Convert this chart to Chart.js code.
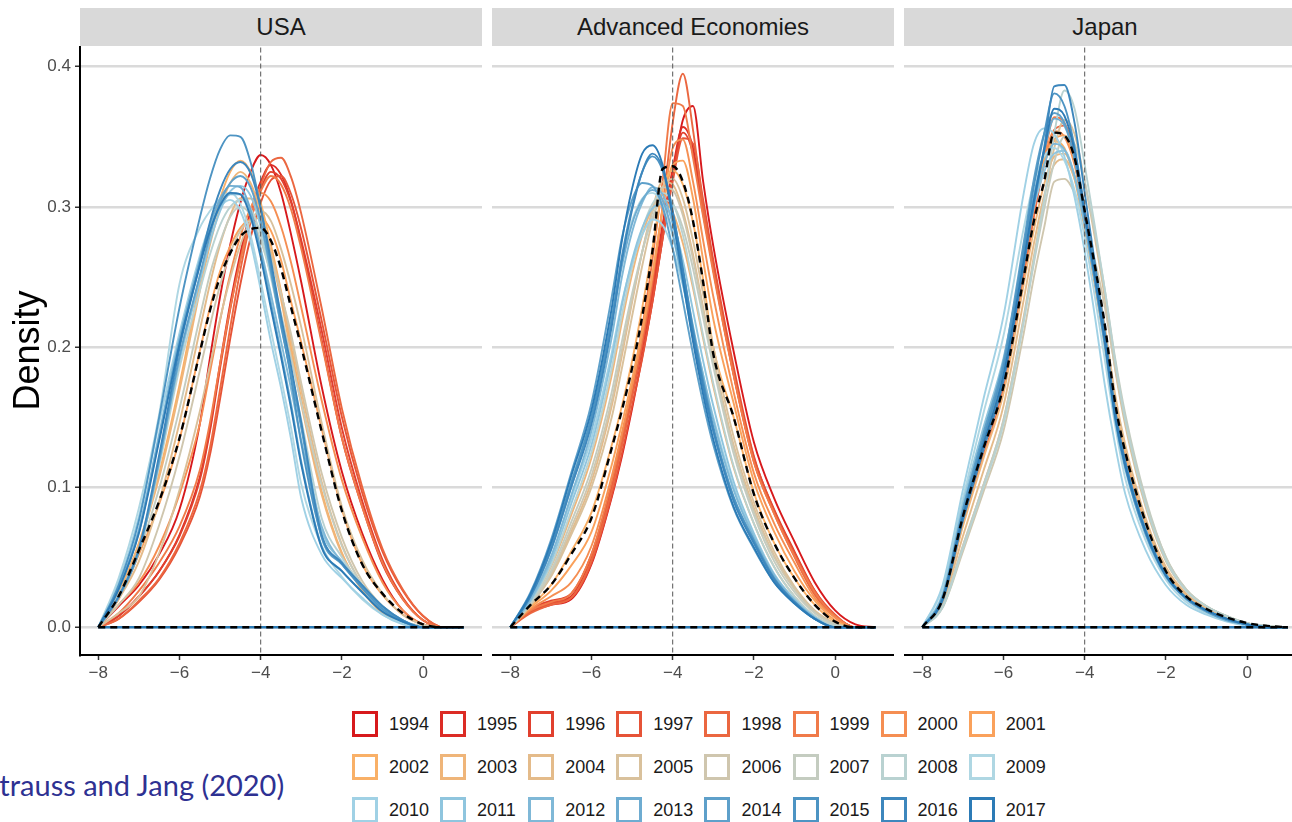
<!DOCTYPE html>
<html>
<head>
<meta charset="utf-8">
<script src="https://cdn.jsdelivr.net/npm/chart.js@4/dist/chart.umd.min.js"></script>
<style>
  html, body { margin: 0; padding: 0; background: #fff; overflow: hidden; }
  #stage { position: relative; width: 1292px; height: 822px; overflow: hidden; background: #fff; }
  .strip { position: absolute; top: 8px; height: 38px; background: #d9d9d9; color: #1a1a1a;
           font: 24px "Liberation Sans", Arial, sans-serif; text-align: center; line-height: 38px; }
  canvas { position: absolute; top: 46px; }
  .legend-item { position: absolute; display: flex; align-items: center; height: 26px; }
  .swatch { width: 20px; height: 20px; border: 3px solid #000; background: #fff; }
  .legend-label { margin-left: 11px; font: 18px "Liberation Sans", Arial, sans-serif; color: #1a1a1a; }
  #cite { position: absolute; top: 767px; font: 29px Lato, "Open Sans", sans-serif; line-height: 36px;
          color: #2e3192; white-space: nowrap; }
</style>
</head>
<body>
<div id="stage"></div>
<script>
// Density grid shared by every curve
const densityX = [-8, -7.5, -7, -6.5, -6, -5.5, -5.25, -5, -4.75, -4.5, -4.25, -4, -3.75, -3.5, -3.25, -3, -2.5, -2, -1.5, -1, -0.5, 0, 0.5, 1];

const years = [1994, 1995, 1996, 1997, 1998, 1999, 2000, 2001, 2002, 2003, 2004, 2005,
               2006, 2007, 2008, 2009, 2010, 2011, 2012, 2013, 2014, 2015, 2016, 2017];
const japanYears = years.filter(y => y >= 1998);

const panelNames = ['USA', 'Advanced Economies', 'Japan'];
const xTicks = [-8, -6, -4, -2, 0];
const yTicks = [0, 0.1, 0.2, 0.3, 0.4];
const referenceX = -4;

// USA, one row per year (1994-2017)
const usaDensity = [
  [0,0.015,0.030,0.052,0.084,0.145,0.192,0.236,0.273,0.303,0.325,0.337,0.330,0.310,0.280,0.246,0.172,0.111,0.067,0.034,0.012,0.002,0,0],
  [0,0.008,0.022,0.040,0.066,0.107,0.142,0.188,0.231,0.267,0.297,0.318,0.330,0.323,0.304,0.274,0.205,0.135,0.086,0.045,0.020,0.005,0,0],
  [0,0.008,0.022,0.040,0.065,0.105,0.140,0.185,0.227,0.263,0.292,0.313,0.325,0.320,0.303,0.276,0.212,0.142,0.090,0.048,0.021,0.005,0,0],
  [0,0.006,0.018,0.034,0.058,0.093,0.123,0.163,0.206,0.245,0.278,0.303,0.319,0.322,0.309,0.284,0.219,0.150,0.096,0.054,0.026,0.008,0,0],
  [0,0.006,0.019,0.035,0.060,0.097,0.128,0.170,0.214,0.255,0.289,0.315,0.332,0.335,0.321,0.295,0.228,0.156,0.100,0.056,0.027,0.008,0,0],
  [0,0.010,0.026,0.046,0.072,0.112,0.146,0.188,0.228,0.262,0.291,0.311,0.322,0.316,0.298,0.270,0.203,0.135,0.086,0.046,0.020,0.005,0,0],
  [0,0.016,0.032,0.058,0.095,0.145,0.182,0.219,0.252,0.279,0.299,0.310,0.304,0.286,0.260,0.228,0.162,0.105,0.064,0.032,0.012,0.002,0,0],
  [0,0.020,0.052,0.088,0.134,0.197,0.228,0.254,0.272,0.285,0.291,0.292,0.283,0.262,0.232,0.203,0.142,0.084,0.045,0.023,0.009,0.002,0,0],
  [0,0.025,0.060,0.110,0.173,0.246,0.280,0.306,0.325,0.333,0.325,0.303,0.273,0.240,0.200,0.163,0.097,0.053,0.027,0.010,0.003,0,0,0],
  [0,0.024,0.059,0.107,0.169,0.240,0.273,0.299,0.317,0.325,0.317,0.296,0.266,0.234,0.195,0.159,0.095,0.052,0.026,0.010,0.003,0,0,0],
  [0,0.020,0.047,0.090,0.146,0.212,0.245,0.273,0.294,0.306,0.306,0.292,0.268,0.239,0.205,0.169,0.104,0.059,0.030,0.012,0.004,0,0,0],
  [0,0.010,0.022,0.053,0.098,0.154,0.187,0.220,0.249,0.273,0.290,0.297,0.290,0.270,0.244,0.214,0.146,0.086,0.048,0.024,0.009,0.002,0,0],
  [0,0.016,0.035,0.073,0.122,0.183,0.215,0.244,0.267,0.283,0.290,0.283,0.264,0.238,0.209,0.174,0.110,0.064,0.033,0.015,0.004,0.001,0,0],
  [0,0.023,0.054,0.099,0.156,0.221,0.252,0.275,0.293,0.300,0.294,0.276,0.252,0.224,0.192,0.160,0.102,0.058,0.030,0.012,0.004,0.001,0,0],
  [0,0.022,0.055,0.115,0.185,0.240,0.266,0.287,0.300,0.305,0.299,0.280,0.250,0.216,0.182,0.148,0.078,0.050,0.030,0.015,0.005,0,0,0],
  [0,0.035,0.085,0.152,0.245,0.285,0.297,0.306,0.310,0.302,0.280,0.247,0.212,0.178,0.142,0.102,0.058,0.036,0.020,0.009,0.003,0,0,0],
  [0,0.032,0.079,0.146,0.210,0.265,0.287,0.300,0.305,0.297,0.275,0.241,0.204,0.171,0.134,0.092,0.052,0.035,0.021,0.009,0.002,0,0,0],
  [0,0.022,0.055,0.118,0.190,0.247,0.275,0.297,0.311,0.315,0.308,0.286,0.253,0.216,0.181,0.145,0.070,0.047,0.029,0.014,0.005,0,0,0],
  [0,0.028,0.070,0.138,0.206,0.260,0.283,0.300,0.309,0.309,0.296,0.270,0.238,0.204,0.170,0.133,0.072,0.046,0.028,0.013,0.004,0,0,0],
  [0,0.027,0.068,0.135,0.205,0.262,0.287,0.306,0.315,0.314,0.298,0.268,0.232,0.196,0.159,0.118,0.058,0.040,0.025,0.012,0.004,0,0,0],
  [0,0.021,0.054,0.119,0.193,0.251,0.280,0.303,0.317,0.322,0.314,0.290,0.254,0.215,0.180,0.142,0.064,0.045,0.029,0.015,0.005,0,0,0],
  [0,0.030,0.076,0.150,0.228,0.292,0.320,0.341,0.351,0.350,0.332,0.299,0.258,0.218,0.177,0.131,0.065,0.045,0.028,0.013,0.004,0,0,0],
  [0,0.022,0.056,0.123,0.199,0.259,0.289,0.312,0.327,0.332,0.324,0.299,0.262,0.222,0.186,0.146,0.066,0.046,0.030,0.015,0.005,0,0,0],
  [0,0.027,0.067,0.133,0.202,0.258,0.283,0.301,0.310,0.309,0.293,0.264,0.228,0.193,0.156,0.116,0.057,0.040,0.025,0.011,0.004,0,0,0]
];
const usaMean = [0,0.022,0.055,0.090,0.135,0.196,0.226,0.250,0.267,0.279,0.284,0.285,0.276,0.256,0.228,0.200,0.140,0.083,0.045,0.024,0.010,0.002,0,0];

// Advanced Economies, one row per year (1994-2017)
const advDensity = [
  [0,0.011,0.016,0.020,0.045,0.093,0.122,0.156,0.193,0.232,0.277,0.322,0.362,0.372,0.318,0.272,0.197,0.132,0.092,0.061,0.032,0.012,0.002,0],
  [0,0.012,0.018,0.022,0.050,0.100,0.131,0.166,0.201,0.241,0.287,0.327,0.357,0.342,0.297,0.256,0.181,0.119,0.082,0.052,0.025,0.008,0,0],
  [0,0.013,0.019,0.024,0.052,0.101,0.131,0.165,0.199,0.238,0.283,0.323,0.353,0.338,0.295,0.256,0.182,0.121,0.084,0.054,0.026,0.008,0,0],
  [0,0.011,0.017,0.021,0.046,0.094,0.124,0.158,0.192,0.232,0.277,0.318,0.349,0.345,0.305,0.262,0.186,0.122,0.083,0.053,0.026,0.009,0,0],
  [0,0.010,0.016,0.021,0.048,0.098,0.130,0.165,0.203,0.245,0.300,0.360,0.395,0.355,0.300,0.255,0.180,0.118,0.081,0.050,0.023,0.007,0,0],
  [0,0.012,0.018,0.024,0.052,0.104,0.136,0.172,0.214,0.262,0.318,0.374,0.372,0.335,0.293,0.253,0.180,0.118,0.081,0.051,0.025,0.008,0,0],
  [0,0.013,0.022,0.032,0.058,0.108,0.139,0.172,0.208,0.250,0.298,0.342,0.348,0.318,0.276,0.236,0.168,0.110,0.074,0.046,0.021,0.007,0,0],
  [0,0.014,0.026,0.044,0.068,0.116,0.145,0.177,0.212,0.252,0.298,0.330,0.333,0.306,0.262,0.220,0.160,0.104,0.068,0.040,0.019,0.005,0,0],
  [0,0.015,0.030,0.054,0.082,0.130,0.158,0.190,0.228,0.270,0.312,0.326,0.316,0.289,0.248,0.200,0.150,0.096,0.060,0.035,0.016,0.004,0,0],
  [0,0.018,0.043,0.080,0.121,0.180,0.218,0.252,0.280,0.299,0.305,0.296,0.274,0.242,0.206,0.172,0.114,0.074,0.043,0.022,0.008,0.001,0,0],
  [0,0.016,0.037,0.068,0.104,0.158,0.194,0.232,0.268,0.298,0.318,0.316,0.297,0.266,0.228,0.192,0.130,0.085,0.051,0.028,0.011,0.002,0,0],
  [0,0.016,0.036,0.066,0.100,0.150,0.185,0.222,0.258,0.290,0.314,0.320,0.306,0.276,0.238,0.200,0.136,0.089,0.054,0.029,0.012,0.003,0,0],
  [0,0.016,0.038,0.071,0.108,0.162,0.198,0.234,0.268,0.296,0.314,0.312,0.294,0.263,0.226,0.190,0.128,0.083,0.050,0.027,0.011,0.002,0,0],
  [0,0.017,0.040,0.075,0.113,0.168,0.204,0.238,0.268,0.292,0.305,0.302,0.285,0.256,0.221,0.186,0.124,0.080,0.047,0.025,0.010,0.002,0,0],
  [0,0.018,0.044,0.083,0.125,0.185,0.223,0.257,0.284,0.302,0.310,0.303,0.280,0.245,0.208,0.174,0.115,0.074,0.043,0.022,0.008,0.001,0,0],
  [0,0.024,0.058,0.104,0.152,0.222,0.262,0.290,0.306,0.310,0.302,0.279,0.246,0.208,0.173,0.142,0.093,0.061,0.035,0.018,0.006,0,0,0],
  [0,0.020,0.050,0.092,0.135,0.196,0.232,0.260,0.280,0.291,0.287,0.270,0.244,0.212,0.180,0.150,0.100,0.065,0.037,0.019,0.007,0,0,0],
  [0,0.019,0.047,0.088,0.130,0.192,0.230,0.262,0.285,0.299,0.302,0.290,0.262,0.226,0.190,0.158,0.104,0.067,0.038,0.020,0.007,0,0,0],
  [0,0.020,0.050,0.094,0.140,0.207,0.250,0.282,0.303,0.314,0.309,0.288,0.254,0.215,0.180,0.148,0.098,0.064,0.037,0.019,0.007,0,0,0],
  [0,0.022,0.055,0.100,0.148,0.218,0.258,0.288,0.305,0.312,0.305,0.281,0.246,0.206,0.170,0.140,0.092,0.060,0.035,0.018,0.006,0,0,0],
  [0,0.025,0.062,0.110,0.160,0.236,0.278,0.305,0.317,0.315,0.300,0.270,0.233,0.195,0.160,0.130,0.085,0.056,0.032,0.017,0.006,0,0,0],
  [0,0.023,0.057,0.103,0.150,0.220,0.265,0.300,0.325,0.336,0.326,0.296,0.256,0.213,0.176,0.143,0.093,0.062,0.035,0.018,0.006,0,0,0],
  [0,0.022,0.055,0.100,0.145,0.215,0.262,0.298,0.325,0.338,0.328,0.297,0.255,0.210,0.172,0.140,0.090,0.060,0.034,0.018,0.006,0,0,0],
  [0,0.024,0.060,0.108,0.155,0.228,0.276,0.313,0.338,0.344,0.330,0.292,0.248,0.204,0.166,0.134,0.086,0.057,0.032,0.017,0.006,0,0,0]
];
const advMean = [0,0.016,0.030,0.052,0.078,0.128,0.155,0.185,0.222,0.268,0.327,0.329,0.318,0.290,0.246,0.195,0.150,0.095,0.060,0.035,0.016,0.004,0,0];

// Japan, one row per year (1998-2017)
const japanDensity = [
  [0,0.018,0.074,0.122,0.170,0.250,0.293,0.330,0.355,0.358,0.338,0.298,0.256,0.210,0.157,0.121,0.071,0.039,0.022,0.012,0.006,0.002,0,0],
  [0,0.019,0.078,0.127,0.175,0.256,0.300,0.336,0.364,0.360,0.336,0.296,0.254,0.208,0.155,0.119,0.070,0.038,0.021,0.012,0.006,0.002,0,0],
  [0,0.020,0.080,0.130,0.178,0.258,0.300,0.333,0.354,0.350,0.330,0.292,0.252,0.208,0.155,0.120,0.072,0.039,0.022,0.013,0.006,0.002,0,0],
  [0,0.021,0.082,0.132,0.182,0.260,0.300,0.330,0.348,0.351,0.332,0.293,0.252,0.207,0.154,0.119,0.071,0.039,0.022,0.012,0.006,0.002,0,0],
  [0,0.022,0.084,0.137,0.190,0.268,0.306,0.332,0.347,0.342,0.320,0.284,0.244,0.200,0.150,0.116,0.069,0.038,0.021,0.012,0.006,0.002,0,0],
  [0,0.019,0.072,0.120,0.167,0.245,0.284,0.316,0.336,0.338,0.322,0.290,0.252,0.210,0.160,0.125,0.075,0.041,0.023,0.013,0.007,0.002,0,0],
  [0,0.017,0.065,0.111,0.158,0.234,0.274,0.308,0.330,0.334,0.320,0.292,0.256,0.214,0.166,0.130,0.078,0.043,0.024,0.014,0.007,0.003,0,0],
  [0,0.015,0.058,0.101,0.148,0.222,0.265,0.305,0.342,0.362,0.352,0.318,0.278,0.234,0.184,0.144,0.086,0.047,0.026,0.015,0.008,0.003,0.001,0],
  [0,0.014,0.054,0.096,0.140,0.210,0.250,0.285,0.318,0.320,0.310,0.290,0.262,0.228,0.185,0.148,0.090,0.050,0.027,0.015,0.008,0.003,0.001,0],
  [0,0.015,0.058,0.101,0.148,0.220,0.260,0.298,0.332,0.350,0.345,0.318,0.282,0.240,0.192,0.152,0.092,0.050,0.027,0.015,0.008,0.003,0.001,0],
  [0,0.014,0.056,0.099,0.145,0.218,0.262,0.305,0.352,0.383,0.370,0.330,0.286,0.240,0.190,0.148,0.088,0.048,0.026,0.015,0.008,0.003,0.001,0],
  [0,0.028,0.092,0.152,0.208,0.285,0.318,0.336,0.342,0.333,0.312,0.278,0.236,0.190,0.144,0.106,0.062,0.034,0.018,0.010,0.005,0.002,0,0],
  [0,0.030,0.098,0.162,0.222,0.310,0.345,0.356,0.352,0.336,0.307,0.268,0.222,0.172,0.130,0.095,0.055,0.030,0.016,0.009,0.004,0.001,0,0],
  [0,0.024,0.088,0.142,0.192,0.266,0.300,0.325,0.338,0.340,0.322,0.288,0.248,0.204,0.154,0.118,0.070,0.038,0.021,0.012,0.006,0.002,0,0],
  [0,0.022,0.084,0.136,0.186,0.265,0.303,0.330,0.345,0.341,0.322,0.287,0.247,0.203,0.152,0.117,0.070,0.038,0.021,0.012,0.006,0.002,0,0],
  [0,0.021,0.082,0.134,0.184,0.266,0.308,0.340,0.363,0.358,0.335,0.295,0.252,0.206,0.153,0.117,0.069,0.038,0.021,0.012,0.006,0.002,0,0],
  [0,0.022,0.084,0.138,0.190,0.275,0.320,0.352,0.367,0.360,0.334,0.292,0.247,0.200,0.148,0.113,0.066,0.036,0.020,0.011,0.005,0.002,0,0],
  [0,0.021,0.082,0.134,0.186,0.270,0.315,0.352,0.381,0.372,0.343,0.298,0.252,0.205,0.152,0.116,0.068,0.037,0.021,0.012,0.006,0.002,0,0],
  [0,0.019,0.076,0.126,0.176,0.258,0.302,0.342,0.386,0.387,0.360,0.310,0.260,0.210,0.155,0.118,0.069,0.037,0.021,0.012,0.006,0.002,0,0],
  [0,0.020,0.079,0.130,0.180,0.262,0.305,0.340,0.370,0.365,0.340,0.295,0.250,0.203,0.150,0.115,0.068,0.037,0.021,0.012,0.006,0.002,0,0]
];
const japanMean = [0,0.020,0.079,0.127,0.172,0.250,0.290,0.318,0.353,0.351,0.335,0.297,0.258,0.215,0.160,0.125,0.075,0.040,0.022,0.013,0.007,0.003,0.001,0];

// Year palette: red -> orange -> light blue -> blue
const yearColors = [
  '#d7191c', '#dc2c25', '#e1402e', '#e65337', '#eb6740', '#f07a49', '#f58e52', '#faa15b',
  '#f9b067', '#efb579', '#e4bb8a', '#d9c19c', '#cfc6ae', '#c4ccc0', '#b9d2d1', '#afd7e3',
  '#a0d1e5', '#8fc5de', '#7fb8d7', '#6eacd1', '#5ea0ca', '#4d94c3', '#3d87bd', '#2c7bb6'
];

const FONT = '"Liberation Sans", Arial, sans-serif';
Chart.defaults.font.family = FONT;

const stage = document.getElementById('stage');

function points(ys) {
  return densityX.map((x, i) => ({ x: x, y: ys[i] }));
}

function lineStyle(extra) {
  return Object.assign({
    pointRadius: 0, fill: false, cubicInterpolationMode: 'monotone',
    borderJoinStyle: 'round', borderCapStyle: 'butt'
  }, extra);
}

function buildDatasets(curveYears, curves, mean) {
  const ds = [];
  curves.forEach((ys, k) => {
    const ci = years.indexOf(curveYears[k]);
    ds.push(lineStyle({ label: String(curveYears[k]), data: points(ys),
      borderColor: yearColors[ci], borderWidth: 1.9, order: 100 - ci }));
  });
  const lastColor = yearColors[years.indexOf(curveYears[curveYears.length - 1])];
  const xFirst = densityX[0], xLast = densityX[densityX.length - 1];
  // bottom edge of the density outlines
  ds.push(lineStyle({ data: [{ x: xFirst, y: 0 }, { x: xLast, y: 0 }],
    borderColor: lastColor, borderWidth: 2.6, order: 5, cubicInterpolationMode: 'default', tension: 0 }));
  // reference line
  ds.push(lineStyle({ data: [{ x: referenceX, y: -1 }, { x: referenceX, y: 1 }],
    borderColor: '#555555', borderWidth: 1, borderDash: [5, 3], order: 3,
    cubicInterpolationMode: 'default', tension: 0 }));
  // average density, dashed
  ds.push(lineStyle({ data: [{ x: xFirst, y: 0 }, { x: xLast, y: 0 }],
    borderColor: '#000', borderWidth: 2.4, borderDash: [7, 5], order: 2,
    cubicInterpolationMode: 'default', tension: 0 }));
  ds.push(lineStyle({ label: 'mean', data: points(mean),
    borderColor: '#000', borderWidth: 2.4, borderDash: [7, 5], order: 1 }));
  return ds;
}

function fmtX(v) {
  return v < 0 ? '\u2212' + Math.abs(v) : String(v);
}

const panels = [
  { name: panelNames[0], left: 0, width: 482, showY: true, yrs: years, curves: usaDensity, mean: usaMean },
  { name: panelNames[1], left: 492, width: 402, showY: false, yrs: years, curves: advDensity, mean: advMean },
  { name: panelNames[2], left: 904, width: 402, showY: false, yrs: japanYears, curves: japanDensity, mean: japanMean }
];

const CANVAS_H = 664;
const AXIS_W = 80;
const XAXIS_H = 55;

panels.forEach(p => {
  const strip = document.createElement('div');
  strip.className = 'strip';
  const stripLeft = p.left + (p.showY ? AXIS_W : 0);
  strip.style.left = stripLeft + 'px';
  strip.style.width = (p.left + p.width - stripLeft) + 'px';
  strip.textContent = p.name;
  stage.appendChild(strip);

  const cv = document.createElement('canvas');
  cv.width = p.width; cv.height = CANVAS_H;
  cv.style.left = p.left + 'px';
  cv.style.width = p.width + 'px'; cv.style.height = CANVAS_H + 'px';
  stage.appendChild(cv);

  new Chart(cv.getContext('2d'), {
    type: 'line',
    data: { datasets: buildDatasets(p.yrs, p.curves, p.mean) },
    options: {
      responsive: false, animation: false, events: [],
      devicePixelRatio: 1,
      layout: { padding: 0 },
      plugins: { legend: { display: false }, tooltip: { enabled: false }, title: { display: false } },
      scales: {
        x: {
          type: 'linear', min: -8.45, max: 1.45, bounds: 'data',
          afterBuildTicks: s => { s.ticks = xTicks.map(v => ({ value: v })); },
          afterFit: s => { s.height = XAXIS_H; s.paddingLeft = 0; s.paddingRight = 0; },
          ticks: { callback: v => fmtX(v), color: '#4d4d4d', font: { family: FONT, size: 17 },
                   padding: 3, maxRotation: 0, autoSkip: false },
          grid: { drawOnChartArea: false, drawTicks: true, tickLength: 5, tickColor: '#333333', tickWidth: 1.5 },
          border: { display: true, color: '#000', width: 2 }
        },
        y: {
          type: 'linear', min: -0.0198, max: 0.4148, bounds: 'data',
          afterBuildTicks: s => { s.ticks = yTicks.map(v => ({ value: v })); },
          afterFit: s => { s.width = p.showY ? AXIS_W : 0; s.paddingTop = 0; s.paddingBottom = 0; },
          ticks: { display: p.showY, callback: v => v.toFixed(1), color: '#4d4d4d',
                   font: { family: FONT, size: 17 }, padding: 4 },
          grid: { color: '#dadada', lineWidth: 2.5, drawTicks: p.showY, tickLength: 5,
                  tickColor: '#333333', tickWidth: 1.5 },
          border: { display: p.showY, color: '#000', width: 2 },
          title: { display: p.showY, text: 'Density', color: '#000',
                   font: { family: FONT, size: 36 }, padding: { top: 7, bottom: 0 } }
        }
      }
    }
  });
});

// Year legend, three rows of eight
years.forEach((yr, i) => {
  const item = document.createElement('div');
  item.className = 'legend-item';
  item.style.left = (352 + (i % 8) * 88.1) + 'px';
  item.style.top = (711 + Math.floor(i / 8) * 43) + 'px';
  const sw = document.createElement('div');
  sw.className = 'swatch';
  sw.style.borderColor = yearColors[i];
  const lb = document.createElement('span');
  lb.className = 'legend-label';
  lb.textContent = String(yr);
  item.appendChild(sw); item.appendChild(lb);
  stage.appendChild(item);
});

// Source line
const cite = document.createElement('div');
cite.id = 'cite';
cite.textContent = 'Strauss and Jang (2020)';
stage.appendChild(cite);
const mctx = document.createElement('canvas').getContext('2d');
mctx.font = '29px Lato, "Open Sans", sans-serif';
cite.style.left = (-mctx.measureText('S').width) + 'px';
</script>
</body>
</html>
